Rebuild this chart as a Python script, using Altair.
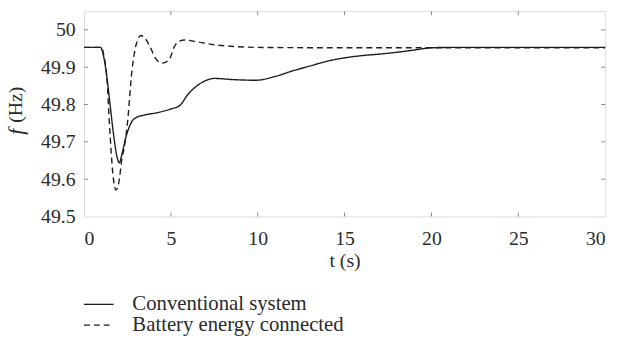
import altair as alt
import pandas as pd

# --- data ---
series_names = ["Conventional system", "Battery energy connected"]

t_conv = [0, 0.95, 1.1, 1.3, 1.5, 1.7, 1.9, 2.03, 2.2, 2.4, 2.7, 3.0, 3.5, 4.2, 5.0, 5.5,
          6.0, 6.5, 7.0, 7.5, 8.5, 9.9, 11, 12, 13, 14, 15, 16, 17, 18, 19, 20, 21, 30]
f_conv = [49.953, 49.953, 49.935, 49.88, 49.80, 49.72, 49.66, 49.644, 49.67, 49.71, 49.75,
          49.765, 49.772, 49.778, 49.788, 49.797, 49.828, 49.85, 49.864, 49.87, 49.867,
          49.865, 49.875, 49.89, 49.903, 49.916, 49.925, 49.931, 49.935, 49.94, 49.946,
          49.952, 49.953, 49.953]

t_batt = [0, 1.0, 1.15, 1.3, 1.5, 1.65, 1.84, 2.0, 2.2, 2.3, 2.5, 2.76, 3.0, 3.28, 3.5,
          3.8, 4.1, 4.5, 4.9, 5.2, 5.5, 5.8, 6.5, 7.5, 8.5, 10, 15, 30]
f_batt = [49.953, 49.953, 49.93, 49.88, 49.72, 49.62, 49.571, 49.59, 49.66, 49.68, 49.75,
          49.89, 49.96, 49.985, 49.978, 49.955, 49.925, 49.911, 49.92, 49.955, 49.97,
          49.973, 49.968, 49.96, 49.956, 49.953, 49.952, 49.952]

x_ticks = [0, 5, 10, 15, 20, 25, 30]
y_ticks = [49.5, 49.6, 49.7, 49.8, 49.9, 50.0]

W, H = 528, 208
FONT = "Liberation Serif"
FS = 20
TXT = "#2a2a2a"
LINE = "#1e1e1e"
FRAME = "#8a8a8a"

df = pd.concat([
    pd.DataFrame({"t": t_conv, "f": f_conv, "series": series_names[0]}),
    pd.DataFrame({"t": t_batt, "f": f_batt, "series": series_names[1]}),
])

xscale = alt.Scale(domain=[0, 30], nice=False, zero=False)
yscale = alt.Scale(domain=[49.5, 50.05], nice=False, zero=False)

lines = alt.Chart(df).mark_line(interpolate="monotone", strokeWidth=1.4, color=LINE).encode(
    x=alt.X("t:Q", scale=xscale, axis=alt.Axis(
        values=x_ticks, title="t (s)", tickSize=0, domain=False, grid=False,
        labelPadding=12, titlePadding=3, labelFontSize=FS, titleFontSize=FS,
        labelFont=FONT, titleFont=FONT, titleFontWeight="normal",
        labelColor=TXT, titleColor=TXT, format="d")),
    y=alt.Y("f:Q", scale=yscale, axis=alt.Axis(
        values=y_ticks, title=None, tickSize=0, domain=False, grid=False,
        labelPadding=9, labelFontSize=FS, labelFont=FONT, labelColor=TXT,
        labelExpr="datum.value == 50 ? '50' : format(datum.value, '.1f')")),
    strokeDash=alt.StrokeDash("series:N", scale=alt.Scale(
        domain=series_names, range=[[1, 0], [6, 4]]), legend=None),
    detail="series:N",
)

xt = pd.DataFrame({"t": x_ticks[1:-1]})
yt = pd.DataFrame({"f": y_ticks[1:]})
TL = 4
tick_top = alt.Chart(xt).mark_rule(color=FRAME, strokeWidth=1).encode(
    x=alt.X("t:Q", scale=xscale), y=alt.value(0), y2=alt.value(TL))
tick_bot = alt.Chart(xt).mark_rule(color=FRAME, strokeWidth=1).encode(
    x=alt.X("t:Q", scale=xscale), y=alt.value(H), y2=alt.value(H - TL))
tick_left = alt.Chart(yt).mark_rule(color=FRAME, strokeWidth=1).encode(
    y=alt.Y("f:Q", scale=yscale), x=alt.value(0), x2=alt.value(TL))
tick_right = alt.Chart(yt).mark_rule(color=FRAME, strokeWidth=1).encode(
    y=alt.Y("f:Q", scale=yscale), x=alt.value(W), x2=alt.value(W - TL))

one = pd.DataFrame({"a": [0]})
ytitle_f = alt.Chart(one).mark_text(text="f", font=FONT, fontSize=22, fontStyle="italic",
                                    angle=270, align="right", baseline="middle",
                                    color=TXT).encode(x=alt.value(-69), y=alt.value(119))
ytitle_hz = alt.Chart(one).mark_text(text="(Hz)", font=FONT, fontSize=FS,
                                     angle=270, align="left", baseline="middle",
                                     color=TXT).encode(x=alt.value(-69), y=alt.value(113))

LFS = 21
ROW1, ROW2 = 297, 318
leg_solid = alt.Chart(one).mark_rule(color=LINE, strokeWidth=1.3).encode(
    x=alt.value(0), x2=alt.value(30), y=alt.value(ROW1))
leg_dash = alt.Chart(one).mark_rule(color=LINE, strokeWidth=1.3, strokeDash=[6, 4]).encode(
    x=alt.value(0), x2=alt.value(30), y=alt.value(ROW2))
leg_t1 = alt.Chart(one).mark_text(text=series_names[0], font=FONT, fontSize=LFS, align="left",
                                  baseline="middle", color=TXT).encode(
    x=alt.value(49), y=alt.value(ROW1))
leg_t2 = alt.Chart(one).mark_text(text=series_names[1], font=FONT, fontSize=LFS, align="left",
                                  baseline="middle", color=TXT).encode(
    x=alt.value(49), y=alt.value(ROW2))

chart = alt.layer(
    lines, tick_top, tick_bot, tick_left, tick_right,
    ytitle_f, ytitle_hz, leg_solid, leg_dash, leg_t1, leg_t2
).properties(
    width=W, height=H,
    autosize=alt.AutoSizeParams(type="none"),
    padding={"left": 77, "top": 1, "right": 11, "bottom": 132},
).configure_view(
    stroke=FRAME, strokeWidth=1.3
).configure(background="white")

chart.save("out.html", embed_options={"renderer": "svg", "actions": False})
